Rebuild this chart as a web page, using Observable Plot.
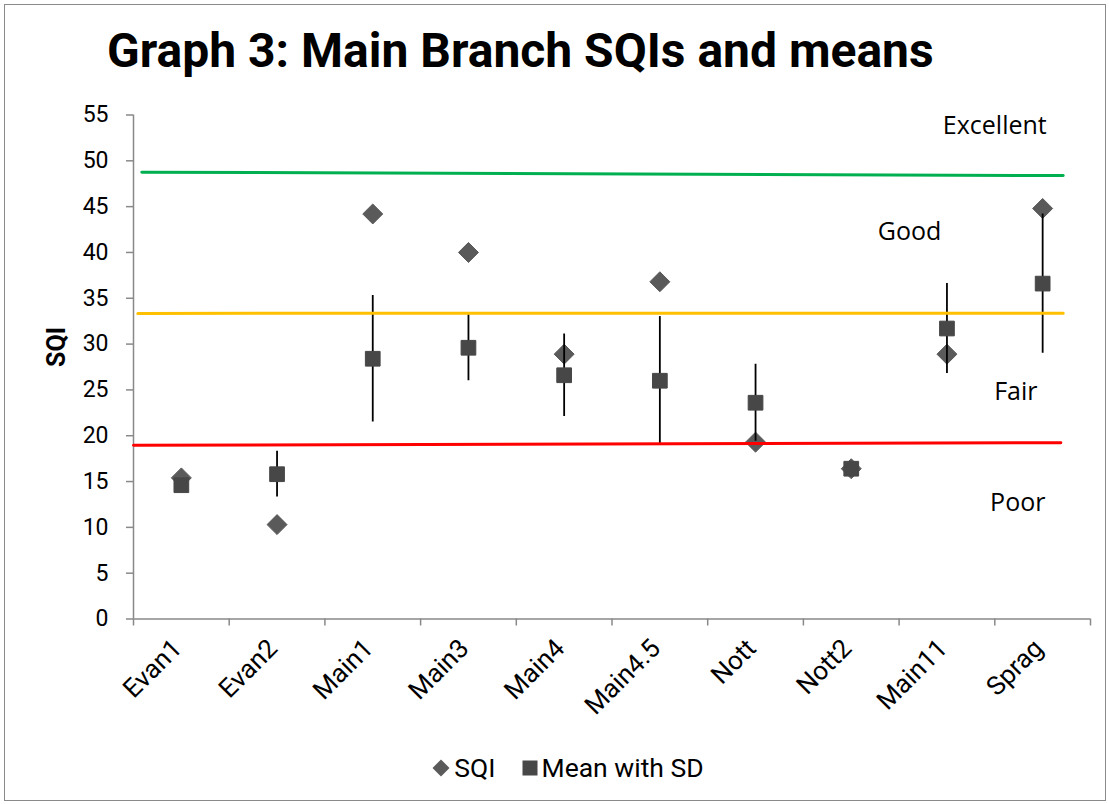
<!DOCTYPE html>
<html>
<head>
<meta charset="utf-8">
<script src="https://cdn.jsdelivr.net/npm/d3@7"></script>
<script src="https://cdn.jsdelivr.net/npm/@observablehq/plot@0.6"></script>
<style>
  html, body { margin: 0; padding: 0; background: #fff; }
  #page { position: relative; width: 1109px; height: 804px; overflow: hidden; font-family: Roboto, sans-serif; }
  #frame { position: absolute; left: 4px; top: 4px; width: 1100px; height: 795px; border: 1.5px solid #8a8a8a; }
  #title { position: absolute; left: 107px; top: 27px; font-family: Roboto, sans-serif; font-weight: 700; font-size: 48px; color: #000; white-space: nowrap; line-height: 1; }
  #chart { position: absolute; left: 0; top: 100px; }
  #legend { position: absolute; left: 13px; top: 752px; width: 1109px; display: flex; justify-content: center; align-items: center; font-size: 26.5px; color: #000; }
  #legend .item { display: flex; align-items: center; }
  #legend svg { display: block; }
</style>
</head>
<body>
<div id="page">
  <div id="frame"></div>
  <div id="title">Graph 3: Main Branch SQIs and means</div>
  <div id="chart"></div>
  <div id="legend"></div>
</div>
<script>
// ---- data ----
const categories = ["Evan1", "Evan2", "Main1", "Main3", "Main4", "Main4.5", "Nott", "Nott2", "Main11", "Sprag"];
const sqi   = [15.4, 10.3, 44.2, 40.0, 28.9, 36.8, 19.3, 16.4, 28.9, 44.8];
const means = [14.6, 15.8, 28.4, 29.6, 26.6, 26.0, 23.6, 16.4, 31.7, 36.6];
const sds   = [0, 2.5, 6.9, 3.6, 4.5, 7.0, 4.2, 0, 4.9, 7.6];

const yTicks = [0, 5, 10, 15, 20, 25, 30, 35, 40, 45, 50, 55];

// threshold lines (category-index units for x, SQI units for y)
const thresholdNames  = ["Excellent/Good", "Good/Fair", "Fair/Poor"];
const thresholdColors = ["#00B050", "#FFC000", "#FF0000"];
const thresholdX0 = [0.087, 0.045, 0];
const thresholdX1 = [9.715, 9.715, 9.69];
const thresholdY0 = [48.76, 33.35, 18.95];
const thresholdY1 = [48.39, 33.37, 19.24];

// zone labels
const zoneNames = ["Excellent", "Good", "Fair", "Poor"];
const zoneX = [9.0, 8.11, 9.22, 9.24];
const zoneY = [53.8, 42.2, 24.8, 12.7];

// ---- build tables ----
const points = categories.map((c, i) => ({cat: c, x: i + 0.5, sqi: sqi[i], mean: means[i], lo: means[i] - sds[i], hi: means[i] + sds[i], sd: sds[i]}));
const thresholdLines = thresholdNames.flatMap((n, i) => [
  {name: n, x: thresholdX0[i], y: thresholdY0[i], color: thresholdColors[i]},
  {name: n, x: thresholdX1[i], y: thresholdY1[i], color: thresholdColors[i]}
]);
const zones = zoneNames.map((n, i) => ({name: n, x: zoneX[i], y: zoneY[i]}));
const bounds = d3.range(0, categories.length + 1);
const centers = categories.map((c, i) => i + 0.5);

const gray = "#898989";
const diamondColor = "#5a5a5a";
const squareColor = "#474747";

const chart = Plot.plot({
  width: 1109,
  height: 640,
  marginTop: 14.5,
  marginBottom: 121.5,
  marginLeft: 133,
  marginRight: 19,
  style: {fontFamily: "Roboto, sans-serif", background: "transparent", overflow: "visible"},
  x: {domain: [0, categories.length], axis: null},
  y: {domain: [0, 55], axis: null},
  marks: [
    // axes
    Plot.axisY({ticks: yTicks, tickSize: 7, tickPadding: 18, stroke: gray, strokeWidth: 1.5, fontSize: 23, fill: "#000", label: null, tickFormat: d => String(d)}),
    Plot.axisX({ticks: bounds, tickSize: 7, stroke: gray, strokeWidth: 1.5, tickFormat: () => "", label: null}),
    Plot.axisX({ticks: centers, tickSize: 0, tickPadding: 25, tickRotate: -45, fontSize: 26, fill: "#000", dx: -4, tickFormat: d => categories[Math.floor(d)], label: null}),
    Plot.ruleX([0], {stroke: gray, strokeWidth: 1.5}),
    Plot.ruleY([0], {stroke: gray, strokeWidth: 1.5}),
    Plot.text(["SQI"], {frameAnchor: "left", dx: -77, dy: 0, rotate: -90, fontSize: 25, fontWeight: "bold", fill: "#000"}),
    // SQI diamonds
    Plot.dot(points, {x: "x", y: "sqi", symbol: "diamond2", r: 9, fill: diamondColor, stroke: diamondColor, strokeWidth: 1}),
    // SD bars
    Plot.ruleX(points.filter(d => d.sd > 0), {x: "x", y1: "lo", y2: "hi", stroke: "#000", strokeWidth: 1.8}),
    // mean squares
    Plot.dot(points, {x: "x", y: "mean", symbol: "square", r: 8.3, fill: squareColor, stroke: squareColor, strokeWidth: 1}),
    // thresholds
    Plot.line(thresholdLines, {x: "x", y: "y", z: "name", stroke: "color", strokeWidth: 3}),
    // zone labels
    Plot.text(zones, {x: "x", y: "y", text: "name", fontSize: 25, fontFamily: "'Open Sans', sans-serif", fill: "#000"})
  ]
});
document.getElementById("chart").appendChild(chart);

// legend
const legend = d3.select("#legend");
const it1 = legend.append("div").attr("class", "item");
it1.append("svg").attr("width", 20).attr("height", 20).style("margin-right", "3px")
  .append("path").attr("d", "M10,1.5L18.5,10L10,18.5L1.5,10Z").attr("fill", diamondColor);
it1.append("span").text("SQI");
const it2 = legend.append("div").attr("class", "item").style("margin-left", "26px");
it2.append("svg").attr("width", 16).attr("height", 16).style("margin-right", "4px")
  .append("rect").attr("x", 0.5).attr("y", 0.5).attr("width", 15).attr("height", 15).attr("fill", squareColor);
it2.append("span").text("Mean with SD");
</script>
</body>
</html>
